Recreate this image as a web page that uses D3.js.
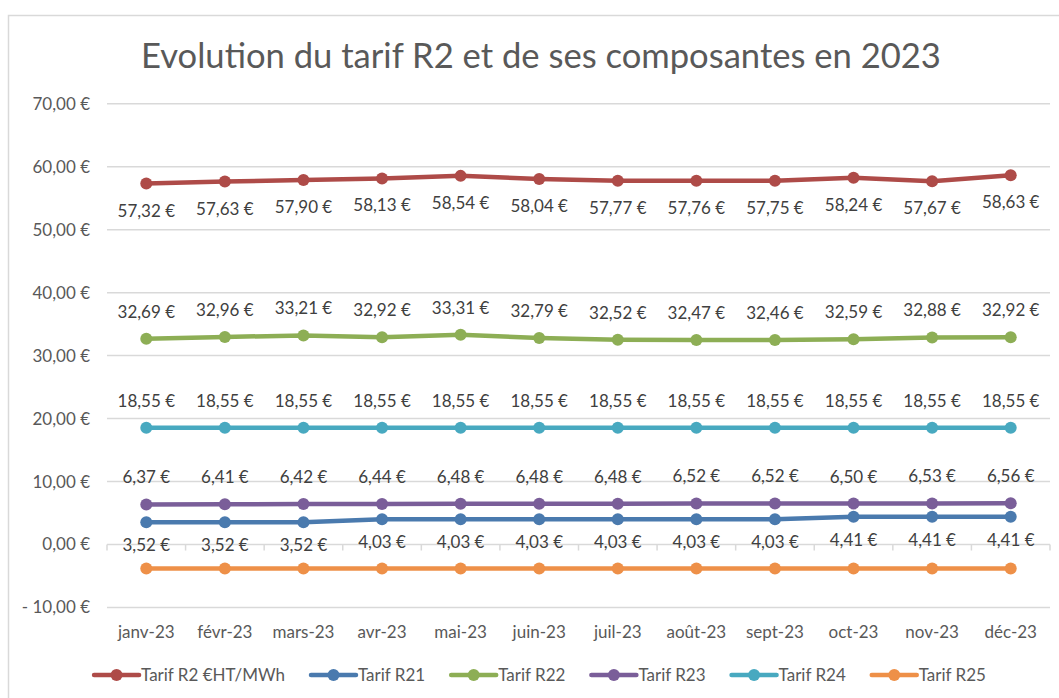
<!DOCTYPE html>
<html><head><meta charset="utf-8">
<script src="https://cdn.jsdelivr.net/npm/d3@7"></script>
<style>body{margin:0;background:#fff;}svg{display:block;}</style>
</head><body>
<svg id="c" width="1059" height="698"></svg>
<script>
const title = "Evolution du tarif R2 et de ses composantes en 2023";
const months = ["janv-23","févr-23","mars-23","avr-23","mai-23","juin-23","juil-23","août-23","sept-23","oct-23","nov-23","déc-23"];
const yTicks = [-10,0,10,20,30,40,50,60,70];
const seriesNames = ["Tarif R2 €HT/MWh","Tarif R21","Tarif R22","Tarif R23","Tarif R24","Tarif R25"];
const r2  = [57.32,57.63,57.90,58.13,58.54,58.04,57.77,57.76,57.75,58.24,57.67,58.63];
const r21 = [3.52,3.52,3.52,4.03,4.03,4.03,4.03,4.03,4.03,4.41,4.41,4.41];
const r22 = [32.69,32.96,33.21,32.92,33.31,32.79,32.52,32.47,32.46,32.59,32.88,32.92];
const r23 = [6.37,6.41,6.42,6.44,6.48,6.48,6.48,6.52,6.52,6.50,6.53,6.56];
const r24 = [18.55,18.55,18.55,18.55,18.55,18.55,18.55,18.55,18.55,18.55,18.55,18.55];
const r25 = [-3.81,-3.81,-3.81,-3.81,-3.81,-3.81,-3.81,-3.81,-3.81,-3.81,-3.81,-3.81];
const colors = ["#AE4B48","#4A7AAE","#8DAE55","#7A5E99","#48A9C0","#EE9048"];
// label placement: 1 = below, -1 = above, 0 = none
const labelPos = [1,1,-1,-1,-1,0];

const data = [r2,r21,r22,r23,r24,r25];
const FONT = "Lato, 'Noto Sans', sans-serif";
const FS = 17;
const svg = d3.select("#c");

// outer border
svg.append("rect").attr("x",8.5).attr("y",15.5).attr("width",1100).attr("height",800)
  .attr("fill","#fff").attr("stroke","#d9d9d9").attr("stroke-width",1.5);

const pLeft = 107, pRight = 1050, pTop = 103.7, pBottom = 607.5;
const x = d3.scaleBand().domain(months).range([pLeft,pRight]).padding(0);
const y = d3.scaleLinear().domain([-10,70]).range([pBottom,pTop]);
const cx = m => x(m) + x.bandwidth()/2;

// title
const t = svg.append("text").attr("x",541).attr("y",68).attr("text-anchor","middle")
  .attr("font-family",FONT).attr("font-size",34).attr("fill","#595959").text(title);
const tw = t.node().getComputedTextLength();
t.attr("font-size", 34*800/tw);

// grid lines
svg.append("g").selectAll("line").data(yTicks.filter(v=>v!==0)).join("line")
  .attr("x1",pLeft).attr("x2",pRight).attr("y1",d=>y(d)).attr("y2",d=>y(d))
  .attr("stroke","#d9d9d9").attr("stroke-width",1.5);

// y labels
const fmt = v => {
  const s = Math.abs(v).toFixed(2).replace(".",",");
  return (v<0 ? "- " : "") + s + " €";
};
svg.append("g").selectAll("text").data(yTicks).join("text")
  .attr("x",90).attr("y",d=>y(d)).attr("dy","0.35em").attr("text-anchor","end")
  .attr("font-family",FONT).attr("font-size",FS).attr("fill","#595959").text(fmt);

// x axis at zero
const xAxis = d3.axisBottom(x).tickSize(5).tickFormat("");
const gx = svg.append("g").attr("transform",`translate(0,${y(0)})`).call(xAxis);
gx.select(".domain").attr("stroke","#d9d9d9").attr("stroke-width",1.5).attr("d",`M${pLeft},0H${pRight}`);
gx.selectAll(".tick").remove();
const bounds = months.map(m=>x(m)).concat([pRight]);
gx.selectAll("line.tk").data(bounds).join("line").attr("class","tk")
  .attr("x1",d=>d).attr("x2",d=>d).attr("y1",0).attr("y2",6)
  .attr("stroke","#d9d9d9").attr("stroke-width",1.5);

// category labels
svg.append("g").selectAll("text").data(months).join("text")
  .attr("x",d=>cx(d)).attr("y",632).attr("dy","0.35em").attr("text-anchor","middle")
  .attr("font-family",FONT).attr("font-size",FS).attr("fill","#595959").text(d=>d);

// series
const line = d3.line().x((d,i)=>cx(months[i])).y(d=>y(d));
data.forEach((vals,si)=>{
  const g = svg.append("g");
  g.append("path").datum(vals).attr("d",line).attr("fill","none")
    .attr("stroke",colors[si]).attr("stroke-width",4.5).attr("stroke-linejoin","round");
  g.selectAll("circle").data(vals).join("circle")
    .attr("cx",(d,i)=>cx(months[i])).attr("cy",d=>y(d)).attr("r",6)
    .attr("fill",colors[si]);
});
data.forEach((vals,si)=>{
  if(!labelPos[si]) return;
  const off = labelPos[si] > 0 ? (si===1 ? 23 : 27) : -27;
  svg.append("g").selectAll("text").data(vals).join("text")
    .attr("x",(d,i)=>cx(months[i])).attr("y",d=>y(d)+off).attr("dy","0.35em")
    .attr("text-anchor","middle").attr("font-family",FONT).attr("font-size",FS)
    .attr("fill","#404040").text(d=>d.toFixed(2).replace(".",",")+" €");
});

// legend
const lg = svg.append("g");
let cur = 0;
seriesNames.forEach((n,i)=>{
  const it = lg.append("g").attr("transform",`translate(${cur},0)`);
  it.append("line").attr("x1",0).attr("x2",45).attr("y1",0).attr("y2",0)
    .attr("stroke",colors[i]).attr("stroke-width",4.5).attr("stroke-linecap","round");
  it.append("circle").attr("cx",22.5).attr("cy",0).attr("r",6).attr("fill",colors[i]);
  const tx = it.append("text").attr("x",47).attr("y",0).attr("dy","0.35em")
    .attr("font-family",FONT).attr("font-size",FS).attr("fill","#595959").text(n);
  cur += 47 + tx.node().getComputedTextLength() + 26;
});
const total = cur - 26;
lg.attr("transform",`translate(${540 - total/2},675)`);
</script>
</body></html>
